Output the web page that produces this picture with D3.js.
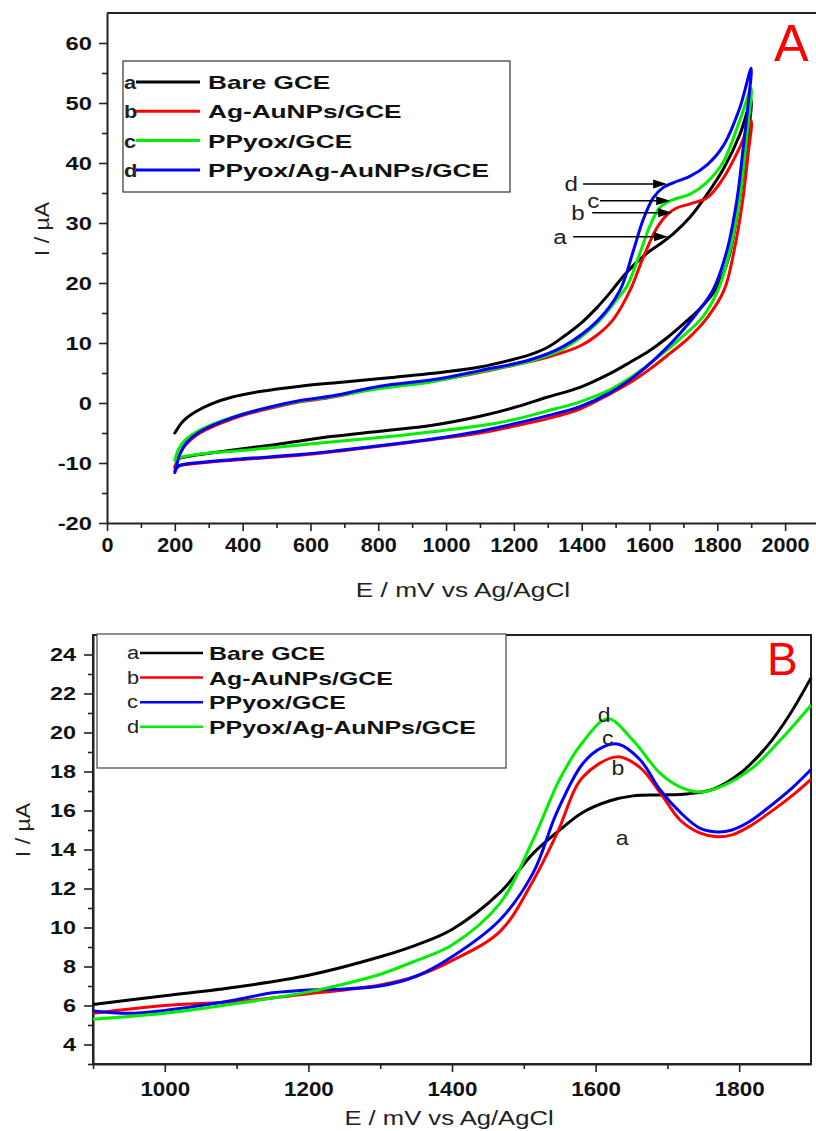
<!DOCTYPE html>
<html><head><meta charset="utf-8">
<script src="https://cdn.jsdelivr.net/npm/d3@7"></script>
<style>
body{margin:0;background:#fff}
svg{display:block}
text{font-family:"Liberation Sans",Arial,Helvetica,sans-serif}
</style>
</head><body>
<svg id="fig" width="816" height="1131"></svg>
<script>
// ---------- Panel A: cyclic voltammograms (forward + reverse scans) ----------
const lettersA = ["a", "b", "c", "d"];
const namesA = ["Bare GCE", "Ag-AuNPs/GCE", "PPyox/GCE", "PPyox/Ag-AuNPs/GCE"];
const colorsA = ["#000000", "#ff0000", "#00ee00", "#0000ff"];

const cvBareFwd = [[200,-5.0],[225,-3.0],[260,-1.5],[310,-0.1],[370,1.0],[450,1.9],[570,2.8],[700,3.5],[850,4.3],[1000,5.2],[1100,6.0],[1200,7.3],[1250,8.1],[1300,9.3],[1345,11.0],[1400,13.4],[1445,15.9],[1484,18.4],[1530,21.6],[1593,25.0],[1631,26.5],[1670,28.2],[1720,31.0],[1770,34.8],[1818,39.0],[1867,44.8],[1900,50.5]];
const cvBareRev = [[1900,50.5],[1885,42],[1865,33.8],[1835,24.5],[1796,19.0],[1750,15.8],[1700,13.2],[1650,10.8],[1602,8.8],[1543,6.8],[1480,4.8],[1395,2.6],[1300,1.0],[1198,-0.8],[1100,-2.2],[960,-3.7],[805,-4.7],[660,-5.6],[500,-6.9],[350,-8.0],[250,-8.8],[205,-9.3]];

const cvAgAuFwd = [[200,-10.6],[208,-9.5],[225,-7.5],[250,-6.0],[274,-5.0],[372,-2.6],[472,-1.0],[570,0.2],[667,1.0],[805,2.6],[964,3.7],[1100,5.1],[1200,6.3],[1298,7.6],[1395,9.5],[1445,11.3],[1493,13.9],[1543,18.8],[1581,24.2],[1622,29.2],[1652,31.4],[1680,32.5],[1720,33.2],[1770,34.2],[1818,37.5],[1867,42.7],[1900,47.0]];
const cvAgAuRev = [[1900,47.0],[1890,41],[1875,33.8],[1850,25.5],[1820,18.8],[1770,14.2],[1711,10.6],[1661,8.3],[1600,5.6],[1543,3.4],[1480,1.4],[1395,-1.0],[1300,-2.6],[1198,-3.9],[1100,-5.0],[960,-6.1],[864,-6.8],[700,-7.9],[569,-8.7],[400,-9.4],[274,-10.0],[210,-10.5],[200,-10.8]];

const cvPPyFwd = [[200,-9.6],[210,-7.8],[230,-6.2],[274,-4.5],[372,-2.3],[472,-0.8],[570,0.3],[667,1.1],[805,2.4],[964,3.6],[1100,5.2],[1248,7.0],[1345,9.0],[1445,13.3],[1500,17.0],[1534,19.5],[1572,25.0],[1602,29.6],[1631,32.6],[1670,33.9],[1720,34.8],[1770,36.8],[1818,40.2],[1867,47.2],[1900,52.4]];
const cvPPyRev = [[1900,52.4],[1890,46],[1876,38.5],[1865,33.8],[1838,25.5],[1802,18.8],[1758,14.4],[1690,10.7],[1640,8.3],[1590,6.1],[1543,4.2],[1480,2.1],[1395,0.2],[1300,-1.3],[1198,-2.8],[1100,-3.8],[960,-4.8],[864,-5.4],[700,-6.3],[569,-7.0],[400,-7.9],[274,-8.5],[215,-9.1],[206,-9.5]];

const cvCompFwd = [[200,-11.4],[205,-10.5],[215,-8.5],[235,-6.6],[274,-4.8],[372,-2.4],[472,-0.8],[570,0.4],[667,1.2],[805,2.8],[964,3.9],[1100,5.4],[1248,7.2],[1345,9.4],[1445,13.6],[1513,18.8],[1552,25.3],[1581,30.5],[1611,34.2],[1640,35.9],[1670,36.7],[1720,37.8],[1770,39.7],[1818,42.9],[1867,49.3],[1900,55.8]];
const cvCompRev = [[1900,55.8],[1890,49.3],[1876,42.3],[1858,33.9],[1829,25.5],[1788,18.9],[1740,15.0],[1690,11.6],[1640,8.6],[1590,6.0],[1543,3.9],[1480,1.6],[1395,-0.6],[1300,-2.1],[1198,-3.5],[1100,-4.7],[960,-6.0],[864,-6.7],[700,-7.8],[569,-8.6],[400,-9.3],[274,-9.9],[215,-10.4],[205,-10.9],[200,-11.6]];

const cvFwd = [cvBareFwd, cvAgAuFwd, cvPPyFwd, cvCompFwd];
const cvRev = [cvBareRev, cvAgAuRev, cvPPyRev, cvCompRev];

// arrow callouts near the oxidation shoulder: [letter, label E, tail E, head E, current]
const calloutsA = [["d",1369,1404,1652,36.5],["c",1434,1454,1661,33.7],["b",1389,1431,1667,31.7],["a",1336,1375,1655,27.7]];

const ticksAx = [0,200,400,600,800,1000,1200,1400,1600,1800,2000];
const ticksAy = [-20,-10,0,10,20,30,40,50,60];

// ---------- Panel B: differential pulse voltammograms ----------
const namesB = ["Bare GCE", "Ag-AuNPs/GCE", "PPyox/GCE", "PPyox/Ag-AuNPs/GCE"];
const colorsB = ["#000000", "#ff0000", "#0000ff", "#00ee00"];
const dpvE = {
  a: [900,1000,1100,1200,1300,1350,1400,1467,1513,1550,1582,1620,1652,1690,1727,1764,1801,1839,1870,1900],
  b: [900,1000,1100,1200,1250,1300,1350,1400,1467,1513,1546,1582,1630,1662,1690,1718,1745,1769,1790,1815,1839,1875,1900],
  c: [900,950,1000,1050,1100,1150,1200,1250,1300,1350,1400,1467,1513,1546,1582,1610,1632,1662,1690,1718,1745,1769,1790,1815,1839,1875,1900],
  d: [900,1000,1100,1200,1250,1300,1350,1400,1467,1513,1550,1582,1617,1652,1690,1718,1745,1773,1819,1857,1900]
};
const dpvBare = [6.05,6.5,6.95,7.55,8.5,9.1,9.9,11.8,13.8,15.0,15.9,16.5,16.75,16.8,16.85,17.1,17.9,19.3,20.9,22.8];
const dpvAgAu = [5.6,6.0,6.2,6.6,6.8,7.05,7.5,8.3,9.8,12.4,14.8,17.7,18.75,18.2,16.9,15.5,14.85,14.65,14.75,15.2,15.8,16.8,17.6];
const dpvPPy  = [5.72,5.6,5.75,6.0,6.3,6.65,6.8,6.85,7.0,7.5,8.5,10.4,12.8,15.9,18.4,19.25,19.4,18.6,17.05,15.9,15.1,14.9,15.0,15.45,16.1,17.2,18.1];
const dpvComp = [5.3,5.6,6.1,6.7,7.1,7.6,8.3,9.1,11.25,14.5,17.6,19.5,20.7,19.6,17.9,17.2,16.95,17.2,18.2,19.6,21.4];
const dpvSeries = [["a", dpvBare], ["b", dpvAgAu], ["c", dpvPPy], ["d", dpvComp]];
// peak letters: [letter, E, current]
const peakLabelsB = [["d",1612,20.9],["c",1617,19.7],["b",1631,18.2],["a",1637,14.6]];

const ticksBx = [1000,1200,1400,1600,1800];
const ticksBy = [4,6,8,10,12,14,16,18,20,22,24];

// ---------- drawing ----------
const svg = d3.select("#fig");
const axisColor = "#222";
const fontStack = '"Liberation Sans",Arial,sans-serif';

function styleAxis(g) {
  g.select(".domain").attr("stroke", axisColor).attr("stroke-width", 2);
  g.selectAll(".tick line").attr("stroke", axisColor).attr("stroke-width", 1.6);
}
// bold, horizontally widened tick labels
function leftLabels(g, offset, size, sx) {
  g.selectAll(".tick text").attr("x", 0).attr("text-anchor", "end")
    .attr("transform", `translate(${-offset},0) scale(${sx},1)`)
    .attr("fill", "#111").attr("font-weight", "bold").attr("font-size", size).style("font-family", fontStack);
}
function bottomLabels(g, size, sx) {
  g.selectAll(".tick text").attr("transform", `scale(${sx},1)`)
    .attr("fill", "#111").attr("font-weight", "bold").attr("font-size", size).style("font-family", fontStack);
}
function minorAxis(g) {
  g.select(".domain").remove();
  g.selectAll("line").attr("stroke", axisColor).attr("stroke-width", 1.6);
}
function wideText(parent, x, y, str, size, sx, opts = {}) {
  return parent.append("text").attr("transform", `translate(${x},${y}) scale(${sx},1)`)
    .attr("text-anchor", opts.anchor || "start").attr("font-size", size)
    .attr("font-weight", opts.bold ? "bold" : "normal").attr("fill", opts.fill || "#222").text(str);
}

// ===== Panel A =====
const xA = d3.scaleLinear().domain([0, 2100]).range([107, 819]);
const yA = d3.scaleLinear().domain([-20, 65]).range([523, 13]);
const gA = svg.append("g");

gA.append("line").attr("x1", xA(0)).attr("x2", 816).attr("y1", yA(65)).attr("y2", yA(65))
  .attr("stroke", axisColor).attr("stroke-width", 2);

gA.append("g").attr("transform", `translate(${xA(0)},0)`)
  .call(d3.axisLeft(yA).tickValues(d3.range(-15, 65, 10)).tickSize(5).tickFormat(""))
  .call(minorAxis);
const axAy = gA.append("g").attr("transform", `translate(${xA(0)},0)`)
  .call(d3.axisLeft(yA).tickValues(ticksAy).tickSize(8).tickFormat(d => String(d)).tickSizeOuter(0));
styleAxis(axAy); leftLabels(axAy, 15, 19, 1.25);

gA.append("g").attr("transform", `translate(0,${yA(-20)})`)
  .call(d3.axisBottom(xA).tickValues(d3.range(100, 2100, 200)).tickSize(5).tickFormat(""))
  .call(minorAxis);
const axAx = gA.append("g").attr("transform", `translate(0,${yA(-20)})`)
  .call(d3.axisBottom(xA).tickValues(ticksAx).tickSize(8).tickPadding(7).tickFormat(d => String(d)).tickSizeOuter(0));
styleAxis(axAx); bottomLabels(axAx, 20, 1.08);

wideText(gA, 463, 597, "E / mV vs Ag/AgCl", 21, 1.25, {anchor: "middle"});
gA.append("text").attr("transform", "translate(49,229) rotate(-90) scale(1.1,1)").attr("text-anchor", "middle")
  .attr("font-size", 21).attr("fill", "#222").text("I / µA");

const lineA = d3.line().x(d => xA(d[0])).y(d => yA(d[1])).curve(d3.curveCatmullRom.alpha(0.5));
[0, 1, 2, 3].forEach(i => {
  gA.append("path").attr("d", lineA(cvFwd[i].concat(cvRev[i].slice(1))))
    .attr("fill", "none").attr("stroke", colorsA[i]).attr("stroke-width", 3)
    .attr("stroke-linejoin", "round").attr("stroke-linecap", "round");
});

// callout arrows
calloutsA.forEach(([l, eL, eT, eH, cur]) => {
  const yy = yA(cur);
  gA.append("line").attr("x1", xA(eT)).attr("x2", xA(eH) - 10).attr("y1", yy).attr("y2", yy)
    .attr("stroke", "#000").attr("stroke-width", 1.5);
  gA.append("path").attr("d", `M${xA(eH)},${yy} l-14,-4.5 l0,9 z`).attr("fill", "#000");
  wideText(gA, xA(eL), yy + 7, l, 21, 1.15, {anchor: "middle"});
});

// legend A
gA.append("rect").attr("x", 123).attr("y", 61).attr("width", 387).attr("height", 131)
  .attr("fill", "none").attr("stroke", "#333").attr("stroke-width", 1.2);
namesA.forEach((n, i) => {
  const yy = 82 + i * 29.3;
  wideText(gA, 124, yy + 7, lettersA[i], 19, 1.15, {bold: true});
  gA.append("line").attr("x1", 136).attr("x2", 200).attr("y1", yy).attr("y2", yy)
    .attr("stroke", colorsA[i]).attr("stroke-width", 3);
  wideText(gA, 208, yy + 7, n, 19, 1.38, {bold: true, fill: "#111"});
});
gA.append("text").attr("x", 774).attr("y", 61).attr("font-size", 52).attr("fill", "#ff0000").text("A");

// ===== Panel B =====
const xB = d3.scaleLinear().domain([900, 1900]).range([93, 811]);
const yB = d3.scaleLinear().domain([3, 25]).range([1064, 635]);
const gB = svg.append("g");

gB.append("rect").attr("x", xB(900)).attr("y", yB(25)).attr("width", xB(1900) - xB(900)).attr("height", yB(3) - yB(25))
  .attr("fill", "none").attr("stroke", axisColor).attr("stroke-width", 2);

gB.append("g").attr("transform", `translate(${xB(900)},0)`)
  .call(d3.axisLeft(yB).tickValues(d3.range(3, 25, 2)).tickSize(5).tickFormat(""))
  .call(minorAxis);
const axBy = gB.append("g").attr("transform", `translate(${xB(900)},0)`)
  .call(d3.axisLeft(yB).tickValues(ticksBy).tickSize(9).tickFormat(d => String(d)).tickSizeOuter(0));
styleAxis(axBy); leftLabels(axBy, 17, 18, 1.3);

gB.append("g").attr("transform", `translate(0,${yB(3)})`)
  .call(d3.axisBottom(xB).tickValues([900, 1100, 1300, 1500, 1700]).tickSize(5).tickFormat(""))
  .call(minorAxis);
const axBx = gB.append("g").attr("transform", `translate(0,${yB(3)})`)
  .call(d3.axisBottom(xB).tickValues(ticksBx).tickSize(8).tickPadding(10).tickFormat(d => String(d)).tickSizeOuter(0));
styleAxis(axBx); bottomLabels(axBx, 20, 1.12);

wideText(gB, 449, 1125, "E / mV vs Ag/AgCl", 21, 1.22, {anchor: "middle"});
gB.append("text").attr("transform", "translate(30,830) rotate(-90) scale(1.1,1)").attr("text-anchor", "middle")
  .attr("font-size", 21).attr("fill", "#222").text("I / µA");

const lineB = d3.line().x(d => xB(d[0])).y(d => yB(d[1])).curve(d3.curveCatmullRom.alpha(0.5));
dpvSeries.forEach(([k, vals], i) => {
  const pts = dpvE[k].map((e, j) => [e, vals[j]]);
  gB.append("path").attr("d", lineB(pts)).attr("fill", "none")
    .attr("stroke", colorsB[i]).attr("stroke-width", 3);
});

peakLabelsB.forEach(([l, e, c]) => {
  wideText(gB, xB(e), yB(c) + 7, l, 20, 1.15, {anchor: "middle"});
});

// legend B
gB.append("rect").attr("x", 97).attr("y", 634).attr("width", 409).attr("height", 134)
  .attr("fill", "#fff").attr("stroke", "#444").attr("stroke-width", 1.2);
namesB.forEach((n, i) => {
  const yy = 653 + i * 24.6;
  wideText(gB, 127, yy + 6, lettersA[i], 19, 1.15);
  gB.append("line").attr("x1", 140).attr("x2", 203).attr("y1", yy).attr("y2", yy)
    .attr("stroke", colorsB[i]).attr("stroke-width", 2.5);
  wideText(gB, 209, yy + 7, n, 19, 1.31, {bold: true, fill: "#111"});
});
gB.append("text").attr("x", 767).attr("y", 675).attr("font-size", 46).attr("fill", "#ff0000").text("B");
</script>
</body></html>
